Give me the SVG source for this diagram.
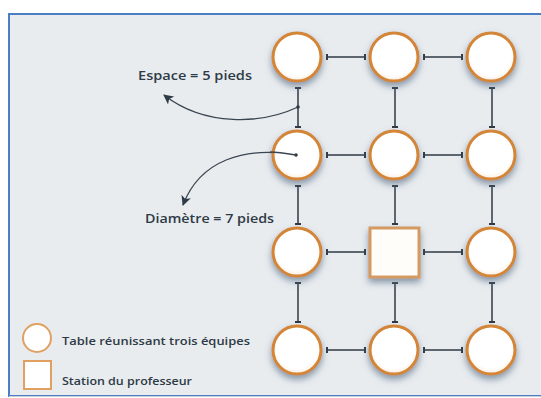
<svg xmlns="http://www.w3.org/2000/svg" width="541" height="398" viewBox="0 0 541 398">
<defs>
<filter id="sh" x="-40%" y="-40%" width="180%" height="190%">
<feGaussianBlur in="SourceAlpha" stdDeviation="3.5"/>
<feOffset dx="0" dy="4" result="b"/>
<feFlood flood-color="#5c7088" flood-opacity="0.7"/>
<feComposite in2="b" operator="in"/>
<feMerge><feMergeNode/><feMergeNode in="SourceGraphic"/></feMerge>
</filter>
<radialGradient id="g" cx="0.5" cy="0.45" r="0.55">
<stop offset="0.78" stop-color="#ffffff"/>
<stop offset="1" stop-color="#fbeee0"/>
</radialGradient>
<marker id="t" viewBox="0 0 2 6" refX="1" refY="3" markerWidth="2" markerHeight="6" markerUnits="userSpaceOnUse" orient="auto">
<rect x="0" y="0" width="2" height="6" fill="#2f3a44"/>
</marker>
<marker id="ah" viewBox="0 0 10 10" refX="9" refY="5" markerWidth="10" markerHeight="10" markerUnits="userSpaceOnUse" orient="auto">
<path d="M0,0 L10,5 L0,10 L2.5,5 Z" fill="#2f3a44"/>
</marker>
<style>
.tb{fill:url(#g);stroke:#d48638;stroke-width:3;filter:url(#sh)}
.sq{fill:#fffdfa;stroke:#d49a62;stroke-width:3;filter:url(#sh)}
.lg{fill:#ffffff;stroke:#e0a062;stroke-width:2}
.c{stroke:#2f3a44;stroke-width:1.5;fill:none;marker-start:url(#t);marker-end:url(#t)}
.cv{stroke:#3a4550;stroke-width:1.3;fill:none;marker-end:url(#ah)}
.lbl{font-family:"Open Sans","Liberation Sans",sans-serif;font-weight:600;fill:#2e3a45}
</style>
</defs>
<rect x="0" y="0" width="541" height="398" fill="#ffffff"/>
<rect x="9" y="14" width="540" height="382" fill="#e8ecef" stroke="#4a7fc6" stroke-width="2"/>
<line x1="9" y1="396.5" x2="541" y2="396.5" stroke="#c9cfd5" stroke-width="1"/>

<g id="connectors">
<line class="c" x1="327" y1="57" x2="365" y2="57"/>
<line class="c" x1="424" y1="57" x2="462" y2="57"/>
<line class="c" x1="327" y1="155" x2="365" y2="155"/>
<line class="c" x1="424" y1="155" x2="462" y2="155"/>
<line class="c" x1="327" y1="252" x2="365" y2="252"/>
<line class="c" x1="424" y1="252" x2="462" y2="252"/>
<line class="c" x1="327" y1="350" x2="365" y2="350"/>
<line class="c" x1="424" y1="350" x2="462" y2="350"/>
<line class="c" x1="298" y1="88" x2="298" y2="127"/>
<line class="c" x1="395" y1="88" x2="395" y2="127"/>
<line class="c" x1="492" y1="88" x2="492" y2="127"/>
<line class="c" x1="298" y1="186" x2="298" y2="224"/>
<line class="c" x1="395" y1="186" x2="395" y2="224"/>
<line class="c" x1="492" y1="186" x2="492" y2="224"/>
<line class="c" x1="298" y1="283" x2="298" y2="322"/>
<line class="c" x1="395" y1="283" x2="395" y2="322"/>
<line class="c" x1="492" y1="283" x2="492" y2="322"/>
<path class="cv" d="M298,107 C262,124 205,127 164,95"/>
<path class="cv" d="M296,155 C245,146 200,160 183,205"/>
<circle cx="298" cy="107" r="1.8" fill="#2f3a44"/>
</g>

<g id="t11"><circle class="tb" cx="297" cy="57" r="24"/></g>
<g id="t12"><circle class="tb" cx="394" cy="57" r="24"/></g>
<g id="t13"><circle class="tb" cx="491" cy="57" r="24"/></g>
<g id="t21"><circle class="tb" cx="297" cy="155" r="24"/><circle cx="296" cy="155" r="1.8" fill="#2f3a44"/><path d="M296,155 C284,153 275,152 270,152" stroke="#3a4550" stroke-width="1.3" fill="none"/></g>
<g id="t22"><circle class="tb" cx="394" cy="155" r="24"/></g>
<g id="t23"><circle class="tb" cx="491" cy="155" r="24"/></g>
<g id="t31"><circle class="tb" cx="297" cy="252" r="24"/></g>
<g id="prof"><rect class="sq" x="370" y="228" width="49" height="49"/></g>
<g id="t33"><circle class="tb" cx="491" cy="252" r="24"/></g>
<g id="t41"><circle class="tb" cx="297" cy="350" r="24"/></g>
<g id="t42"><circle class="tb" cx="394" cy="350" r="24"/></g>
<g id="t43"><circle class="tb" cx="491" cy="350" r="24"/></g>

<g id="label-espace"><text class="lbl" x="138" y="80" font-size="13" textLength="114" lengthAdjust="spacingAndGlyphs">Espace = 5 pieds</text></g>
<g id="label-diametre"><text class="lbl" x="145" y="223" font-size="13" textLength="129" lengthAdjust="spacingAndGlyphs">Diamètre = 7 pieds</text></g>

<g id="legend">
<circle class="lg" cx="37" cy="338" r="14"/>
<rect class="lg" x="24" y="361" width="27" height="28"/>
<text class="lbl" x="62" y="345" font-size="11" textLength="188" lengthAdjust="spacingAndGlyphs">Table réunissant trois équipes</text>
<text class="lbl" x="62" y="385" font-size="11" textLength="130" lengthAdjust="spacingAndGlyphs">Station du professeur</text>
</g>
</svg>
